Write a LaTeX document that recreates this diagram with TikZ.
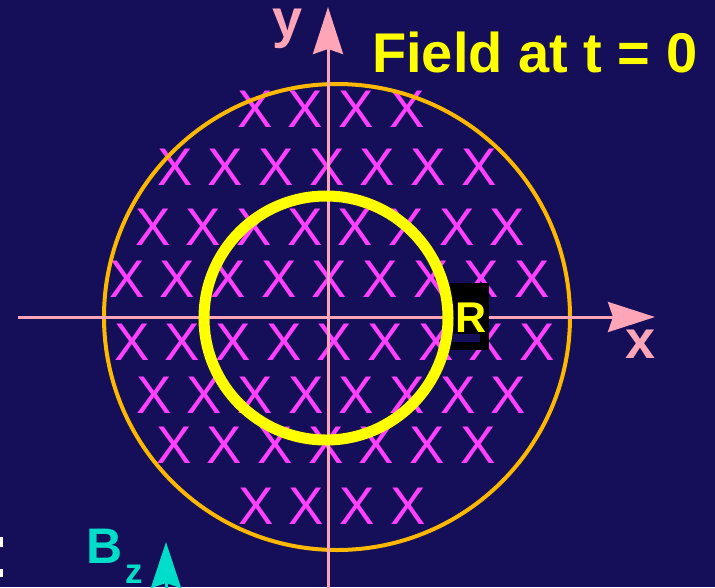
\documentclass[tikz,border=0pt]{standalone}
\usepackage{fontspec}
\setmainfont{Liberation Sans}
\usetikzlibrary{arrows.meta}
\definecolor{bg}{HTML}{140F58}
\definecolor{xmag}{HTML}{FF40FF}
\definecolor{orng}{HTML}{FFB800}
\definecolor{yel}{HTML}{FFFF00}
\definecolor{pnk}{HTML}{FFA5B8}
\definecolor{cyn}{HTML}{00DDC8}
\begin{document}
\begin{tikzpicture}[x=1pt,y=-1pt,
  xmark/.style={text=xmag, inner sep=0pt, font=\fontsize{53}{53}\selectfont},
  axisline/.style={draw=pnk, line width=3pt, -{Stealth[length=47pt,width=30pt,inset=5pt]}},
  axislabel/.style={anchor=base, inner sep=0pt, text=pnk, font=\bfseries\fontsize{54}{54}\selectfont},
  ringline/.style={draw=orng, line width=4pt},
  loopline/.style={draw=yel, line width=11pt},
]
\useasboundingbox (0,0) rectangle (715,587);
\begin{scope}
\clip (0,0) rectangle (715,587);
\fill[bg] (0,0) rectangle (715,587);
% field marks
\foreach \yy/\xs/\n [count=\r] in {109/255/4, 167/175/7, 227/153/8, 279/127/9, 342/132/9, 395/154/8, 445/174/7, 506/256/4} {
  \foreach \i in {1,...,\n} {
    \node[xmark] (x\r-\i) at ({\xs+(\i-1)*50.65}, \yy) {X};
  }
}
% outer ring
\draw[ringline] (337,317) circle [radius=233pt];
% axes
\coordinate (xstart) at (18,317);
\coordinate (xend) at (655,317);
\coordinate (ystart) at (328,600);
\coordinate (yend) at (328,7);
\draw[axisline] (xstart) -- (xend);
\draw[axisline] (ystart) -- (yend);
\node[axislabel] (ylab) at (287.5,37) {y};
\node[axislabel] (xlab) at (641,358) {x};
% R box
\fill[black] (443,283) rectangle (489,350);
\fill[bg] (452,334) rectangle (480,342);
\node[inner sep=0pt, text=yel, font=\bfseries\fontsize{43}{43}\selectfont] (R) at (471,318) {R};
% loop
\draw[loopline] (326,318) circle [radius=122pt];
% title
\node[anchor=base west, inner sep=0pt, text=yel, font=\bfseries\fontsize{56}{56}\selectfont] (title) at (372,72) {Field at t = 0};
% Bz
\node[anchor=base west, inner sep=0pt, text=cyn, font=\bfseries\fontsize{50}{50}\selectfont] (B) at (86.5,563) {B};
\node[anchor=base west, inner sep=0pt, text=cyn, font=\bfseries\fontsize{35}{35}\selectfont] (z) at (125,583) {z};
\coordinate (bzbot) at (166,640);
\coordinate (bztip) at (166,542);
\draw[draw=cyn, line width=3pt, -{Stealth[length=46pt,width=30pt,inset=5pt]}] (bzbot) -- (bztip);
% edge marks
\fill[white] (0,537) rectangle (2.5,547);
\fill[white] (0,569) rectangle (2.5,577);
\end{scope}
\end{tikzpicture}
\end{document}
